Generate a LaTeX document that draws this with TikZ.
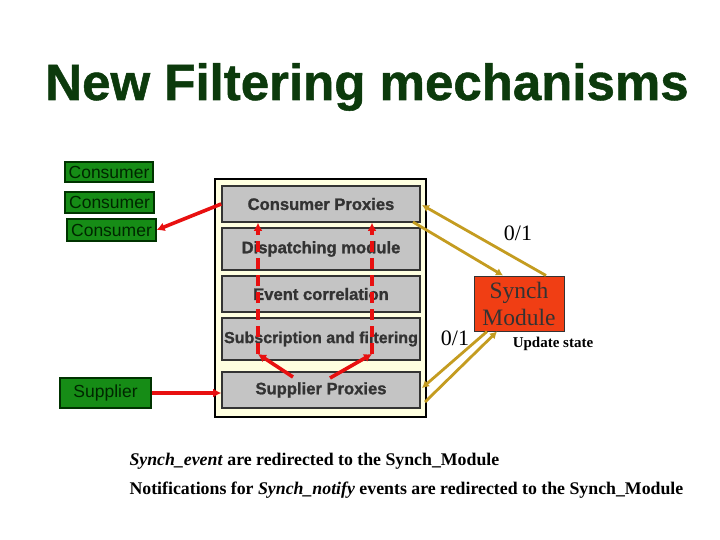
\documentclass[tikz,border=0pt]{standalone}
\usepackage{fontspec}
\setmainfont{Liberation Serif}
\setsansfont{Liberation Sans}
\usetikzlibrary{arrows.meta}
\definecolor{titlegreen}{RGB}{12,58,12}
\definecolor{boxgreen}{RGB}{22,140,22}
\definecolor{paleyellow}{RGB}{255,255,224}
\definecolor{layergray}{RGB}{196,196,196}
\definecolor{arrowred}{RGB}{232,16,16}
\definecolor{gold}{RGB}{196,156,32}
\definecolor{synchred}{RGB}{240,62,20}

\begin{document}
\begin{tikzpicture}[x=1pt,y=-1pt,
         actor/.style = {draw=black!80!green,line width=1.2pt,fill=boxgreen,inner sep=0pt,
            font=\fontsize{17.5}{17.5}\sffamily,text=black!85!green},
         layer/.style = {draw=black!80,line width=1.6pt,fill=layergray,inner sep=0pt,
            minimum width=198,font=\fontsize{16.6}{17}\sffamily\bfseries\addfontfeatures{FakeBold=1.2},text=black!80},
         redflow/.style = {arrowred,line width=3.6pt,-{Latex[length=8pt,width=9pt]}},
         synchflow/.style = {gold,line width=2.8pt,-{Latex[length=7pt,width=8pt]}}
]
   \useasboundingbox (0,0) rectangle (720,540);

   \node[anchor=base,text=titlegreen,font=\fontsize{51}{51}\sffamily\bfseries\addfontfeatures{FakeBold=1}] (title) at (367,100) {New Filtering mechanisms};

   % consumers and supplier
   \node[actor,minimum width=88,minimum height=20] (con1) at (109,172) {Consumer};
   \node[actor,minimum width=89,minimum height=21] (con2) at (109.5,202.5) {Consumer};
   \node[actor,minimum width=89,minimum height=22] (con3) at (111.5,230) {Consumer};
   \node[actor,minimum width=91,minimum height=30] (sup) at (105.5,393) {Supplier};

   % event channel
   \draw[fill=paleyellow,line width=2pt] (215,179) rectangle (426,417);
   \node[layer,minimum height=36] (cp) at (321,204) {Consumer Proxies};
   \node[layer,minimum height=42] (dm) at (321,249) {Dispatching module};
   \node[layer,minimum height=36] (ec) at (321,294) {Event correlation};
   \node[layer,minimum height=42,font=\fontsize{16}{17}\sffamily\bfseries\addfontfeatures{FakeBold=1}] (sf) at (321,339) {Subscription and filtering};
   \node[layer,minimum height=36] (sp) at (321,390) {Supplier Proxies};

   \node[draw=black!80,line width=1pt,fill=synchred,minimum width=90,minimum height=55,inner sep=0pt,
      align=center,font=\fontsize{23.5}{27}\selectfont,text=black!80] (synch) at (519,303.5) {Synch\\Module};

   \coordinate (dl) at (258,354);
   \coordinate (dr) at (372,354);
   \coordinate (spl) at (293,377);
   \coordinate (spr) at (330,378);

   \draw[redflow] (cp.west) -- (con3.east);
   \draw[redflow] (sup.east) -- (sup.east -| sp.west);
   \draw[redflow] (spl) -- (dl);
   \draw[redflow] (spr) -- (dr);
   \draw[redflow,dash pattern=on 11pt off 6pt] (dl) -- (dl |- cp.south);
   \draw[redflow,dash pattern=on 11pt off 6pt] (dr) -- (dr |- cp.south);

   % synch module links
   \coordinate (cpin)  at (422,205);
   \coordinate (cpout) at (413,222);
   \coordinate (spin)  at (422,388);
   \coordinate (spout) at (425,402);
   \draw[synchflow] ([xshift=27]synch.north) -- (cpin);
   \draw[synchflow] (cpout) -- ([xshift=-16]synch.north);
   \draw[synchflow] ([xshift=-32]synch.south) -- (spin);
   \draw[synchflow] (spout) -- ([xshift=-22]synch.south);

   \node[font=\fontsize{22}{22}\selectfont] (top01) at (518,233) {0/1};
   \node[font=\fontsize{22}{22}\selectfont] (bot01) at (455,338) {0/1};
   \node[font=\fontsize{15}{15}\selectfont\bfseries] (upd) at (553,344) {Update state};

   \node[anchor=base west,font=\fontsize{17.8}{18}\selectfont\bfseries] (note1) at (126,465)
      {\textit{Synch\_event} are redirected to the Synch\_Module};
   \node[anchor=base west,font=\fontsize{17.8}{18}\selectfont\bfseries] (note2) at (126,494)
      {Notifications for \textit{Synch\_notify} events are redirected to the Synch\_Module};
\end{tikzpicture}
\end{document}
